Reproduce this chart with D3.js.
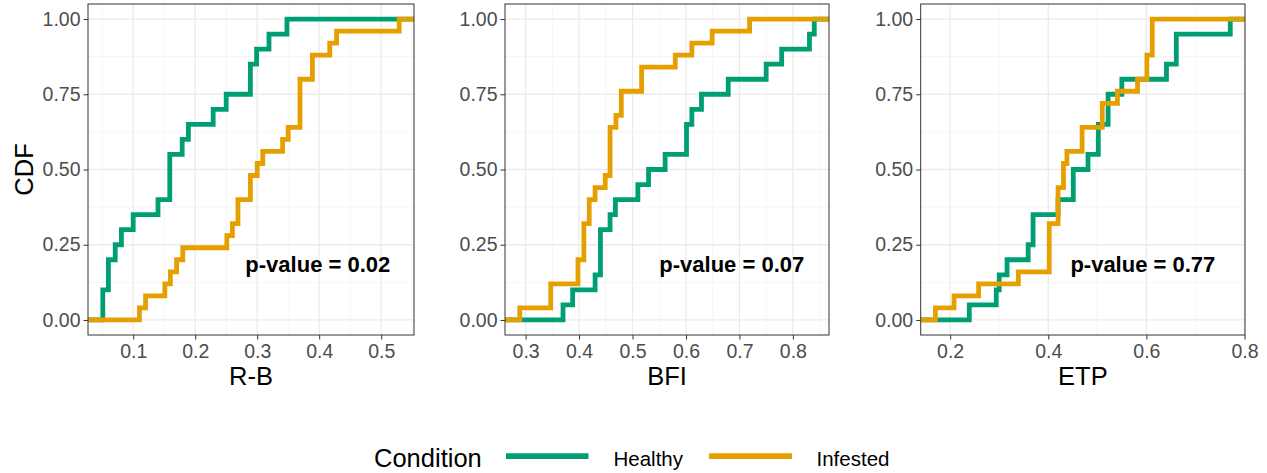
<!DOCTYPE html>
<html>
<head>
<meta charset="utf-8">
<script src="https://cdn.jsdelivr.net/npm/d3@7"></script>
<style>
  body { margin: 0; background: #fff; }
  svg { font-family: "Liberation Sans", Arial, sans-serif; }
</style>
</head>
<body>
<div id="chart"></div>
<script>
var rbHealthy = [0.051, 0.051, 0.060, 0.060, 0.071, 0.081, 0.100, 0.140, 0.159, 0.159,
                 0.159, 0.179, 0.189, 0.229, 0.250, 0.289, 0.289, 0.299, 0.319, 0.348];
var rbInfested = [0.110, 0.120, 0.151, 0.160, 0.170, 0.180, 0.251, 0.260, 0.269, 0.269,
                  0.289, 0.289, 0.300, 0.309, 0.341, 0.350, 0.369, 0.369, 0.369, 0.369,
                  0.389, 0.389, 0.417, 0.428, 0.529];
var bfiHealthy = [0.370, 0.388, 0.430, 0.440, 0.440, 0.440, 0.458, 0.468, 0.510, 0.530,
                  0.561, 0.601, 0.601, 0.611, 0.629, 0.679, 0.750, 0.779, 0.831, 0.840];
var bfiInfested = [0.289, 0.347, 0.347, 0.398, 0.398, 0.409, 0.409, 0.409, 0.419, 0.419,
                   0.430, 0.449, 0.458, 0.458, 0.458, 0.458, 0.469, 0.479, 0.479, 0.517,
                   0.517, 0.580, 0.611, 0.649, 0.719];
var etpHealthy = [0.239, 0.294, 0.300, 0.316, 0.359, 0.369, 0.369, 0.420, 0.451, 0.451,
                  0.481, 0.502, 0.502, 0.522, 0.522, 0.550, 0.641, 0.661, 0.661, 0.771];
var etpInfested = [0.170, 0.208, 0.258, 0.339, 0.402, 0.402, 0.402, 0.402, 0.420, 0.420,
                   0.420, 0.431, 0.431, 0.438, 0.469, 0.469, 0.510, 0.510, 0.541, 0.582,
                   0.601, 0.601, 0.612, 0.612, 0.612];

var variables = ["R-B", "BFI", "ETP"];
var pValues = ["0.02", "0.07", "0.77"];
var xTicks = [[0.1, 0.2, 0.3, 0.4, 0.5], [0.3, 0.4, 0.5, 0.6, 0.7, 0.8], [0.2, 0.4, 0.6, 0.8]];
var yTicks = [0, 0.25, 0.5, 0.75, 1];
var conditions = ["Healthy", "Infested"];
var colors = ["#009E73", "#E69F00"];
var series = [[rbHealthy, rbInfested], [bfiHealthy, bfiInfested], [etpHealthy, etpInfested]];

var W = 1267, H = 473;

// layout
var panelX = [[88, 414], [505, 829], [920.7, 1245]];
var pLabelFrac = [0.705, 0.70, 0.685];
var plotTop = 4, plotBottom = 335;

var svg = d3.select("#chart").append("svg")
    .attr("width", W)
    .attr("height", H);

var root = svg.append("g");

var y = d3.scaleLinear()
    .domain([-0.05, 1.05])
    .range([plotBottom, plotTop]);

function ecdfPoints(values, domain) {
  var sorted = values.slice().sort(d3.ascending);
  var n = sorted.length;
  var pts = [[domain[0], 0]];
  sorted.forEach(function(v, i) {
    if (i < n - 1 && sorted[i + 1] === v) return;
    pts.push([v, (i + 1) / n]);
  });
  pts.push([domain[1], 1]);
  return pts;
}

series.forEach(function(pair, pi) {
  var ext = d3.extent(pair[0].concat(pair[1]));
  var pad = (ext[1] - ext[0]) * 0.05;
  var dom = [ext[0] - pad, ext[1] + pad];

  var x = d3.scaleLinear()
      .domain(dom)
      .range(panelX[pi]);

  var g = root.append("g").attr("class", "panel");
  var x0 = x.range()[0], x1 = x.range()[1];

  g.append("rect")
      .attr("x", x0).attr("y", plotTop)
      .attr("width", x1 - x0).attr("height", plotBottom - plotTop)
      .attr("fill", "#fff");

  // minor grid
  var step = xTicks[pi][1] - xTicks[pi][0];
  var xMinor = [];
  for (var k = -1; k < xTicks[pi].length; k++) {
    var m = xTicks[pi][0] + step * (k + 0.5);
    if (m > dom[0] && m < dom[1]) xMinor.push(m);
  }
  var yMinor = [0.125, 0.375, 0.625, 0.875];

  g.selectAll(".xminor").data(xMinor).enter().append("line")
      .attr("x1", function(d) { return x(d); }).attr("x2", function(d) { return x(d); })
      .attr("y1", plotTop).attr("y2", plotBottom)
      .attr("stroke", "#F2F2F2").attr("stroke-width", 0.8);
  g.selectAll(".yminor").data(yMinor).enter().append("line")
      .attr("x1", x0).attr("x2", x1)
      .attr("y1", function(d) { return y(d); }).attr("y2", function(d) { return y(d); })
      .attr("stroke", "#F2F2F2").attr("stroke-width", 0.8);

  // major grid
  g.selectAll(".xmajor").data(xTicks[pi]).enter().append("line")
      .attr("x1", function(d) { return x(d); }).attr("x2", function(d) { return x(d); })
      .attr("y1", plotTop).attr("y2", plotBottom)
      .attr("stroke", "#EBEBEB").attr("stroke-width", 1.3);
  g.selectAll(".ymajor").data(yTicks).enter().append("line")
      .attr("x1", x0).attr("x2", x1)
      .attr("y1", function(d) { return y(d); }).attr("y2", function(d) { return y(d); })
      .attr("stroke", "#EBEBEB").attr("stroke-width", 1.3);

  var clipId = "clip" + pi;
  g.append("clipPath").attr("id", clipId)
    .append("rect")
      .attr("x", x0).attr("y", plotTop)
      .attr("width", x1 - x0).attr("height", plotBottom - plotTop);

  var line = d3.line()
      .x(function(d) { return x(d[0]); })
      .y(function(d) { return y(d[1]); })
      .curve(d3.curveStepAfter);

  pair.forEach(function(vals, si) {
    g.append("path")
        .datum(ecdfPoints(vals, dom))
        .attr("clip-path", "url(#" + clipId + ")")
        .attr("fill", "none")
        .attr("stroke", colors[si])
        .attr("stroke-width", 4.8)
        .attr("d", line);
  });

  g.append("rect")
      .attr("x", x0).attr("y", plotTop)
      .attr("width", x1 - x0).attr("height", plotBottom - plotTop)
      .attr("fill", "none").attr("stroke", "#333").attr("stroke-width", 1);

  // axes
  var xAxis = d3.axisBottom(x).tickValues(xTicks[pi]).tickSize(4.5).tickPadding(3)
      .tickFormat(d3.format(".1f"));
  var yAxis = d3.axisLeft(y).tickValues(yTicks).tickSize(4.5).tickPadding(3)
      .tickFormat(d3.format(".2f"));

  var gx = g.append("g")
      .attr("transform", "translate(0," + plotBottom + ")")
      .call(xAxis);
  var gy = g.append("g")
      .attr("transform", "translate(" + x0 + ",0)")
      .call(yAxis);
  [gx, gy].forEach(function(a) {
    a.select(".domain").remove();
    a.selectAll(".tick line").attr("stroke", "#333").attr("stroke-width", 1);
    a.selectAll(".tick text").attr("fill", "#4D4D4D")
        .style("font-size", "19.5px").style("font-family", "Liberation Sans, Arial, sans-serif");
  });
  gx.selectAll(".tick text").attr("dy", null).attr("y", 23);

  // x axis title
  g.append("text")
      .attr("x", (x0 + x1) / 2).attr("y", 385)
      .attr("text-anchor", "middle")
      .style("font-size", "25.5px")
      .text(variables[pi]);

  // p-value label
  g.append("text")
      .attr("x", x0 + (x1 - x0) * pLabelFrac[pi]).attr("y", y(0.185))
      .attr("dy", "0.36em")
      .attr("text-anchor", "middle")
      .style("font-size", "22px").style("font-weight", "bold")
      .text("p-value = " + pValues[pi]);
});

// y axis title
root.append("text")
    .attr("transform", "translate(33," + ((plotTop + plotBottom) / 2) + ") rotate(-90)")
    .attr("text-anchor", "middle")
    .style("font-size", "25.5px")
    .text("CDF");

// legend
var legend = root.append("g");
legend.append("text")
    .attr("x", 374).attr("y", 466.5)
    .style("font-size", "25.5px")
    .text("Condition");
var legendX = [[506, 588.5, 613.5], [709, 792, 816.5]];
conditions.forEach(function(c, i) {
  legend.append("line")
      .attr("x1", legendX[i][0]).attr("x2", legendX[i][1])
      .attr("y1", 456.2).attr("y2", 456.2)
      .attr("stroke", colors[i]).attr("stroke-width", 5.7);
  legend.append("text")
      .attr("x", legendX[i][2]).attr("y", 465.7)
      .style("font-size", "20.5px")
      .text(c);
});
</script>
</body>
</html>
